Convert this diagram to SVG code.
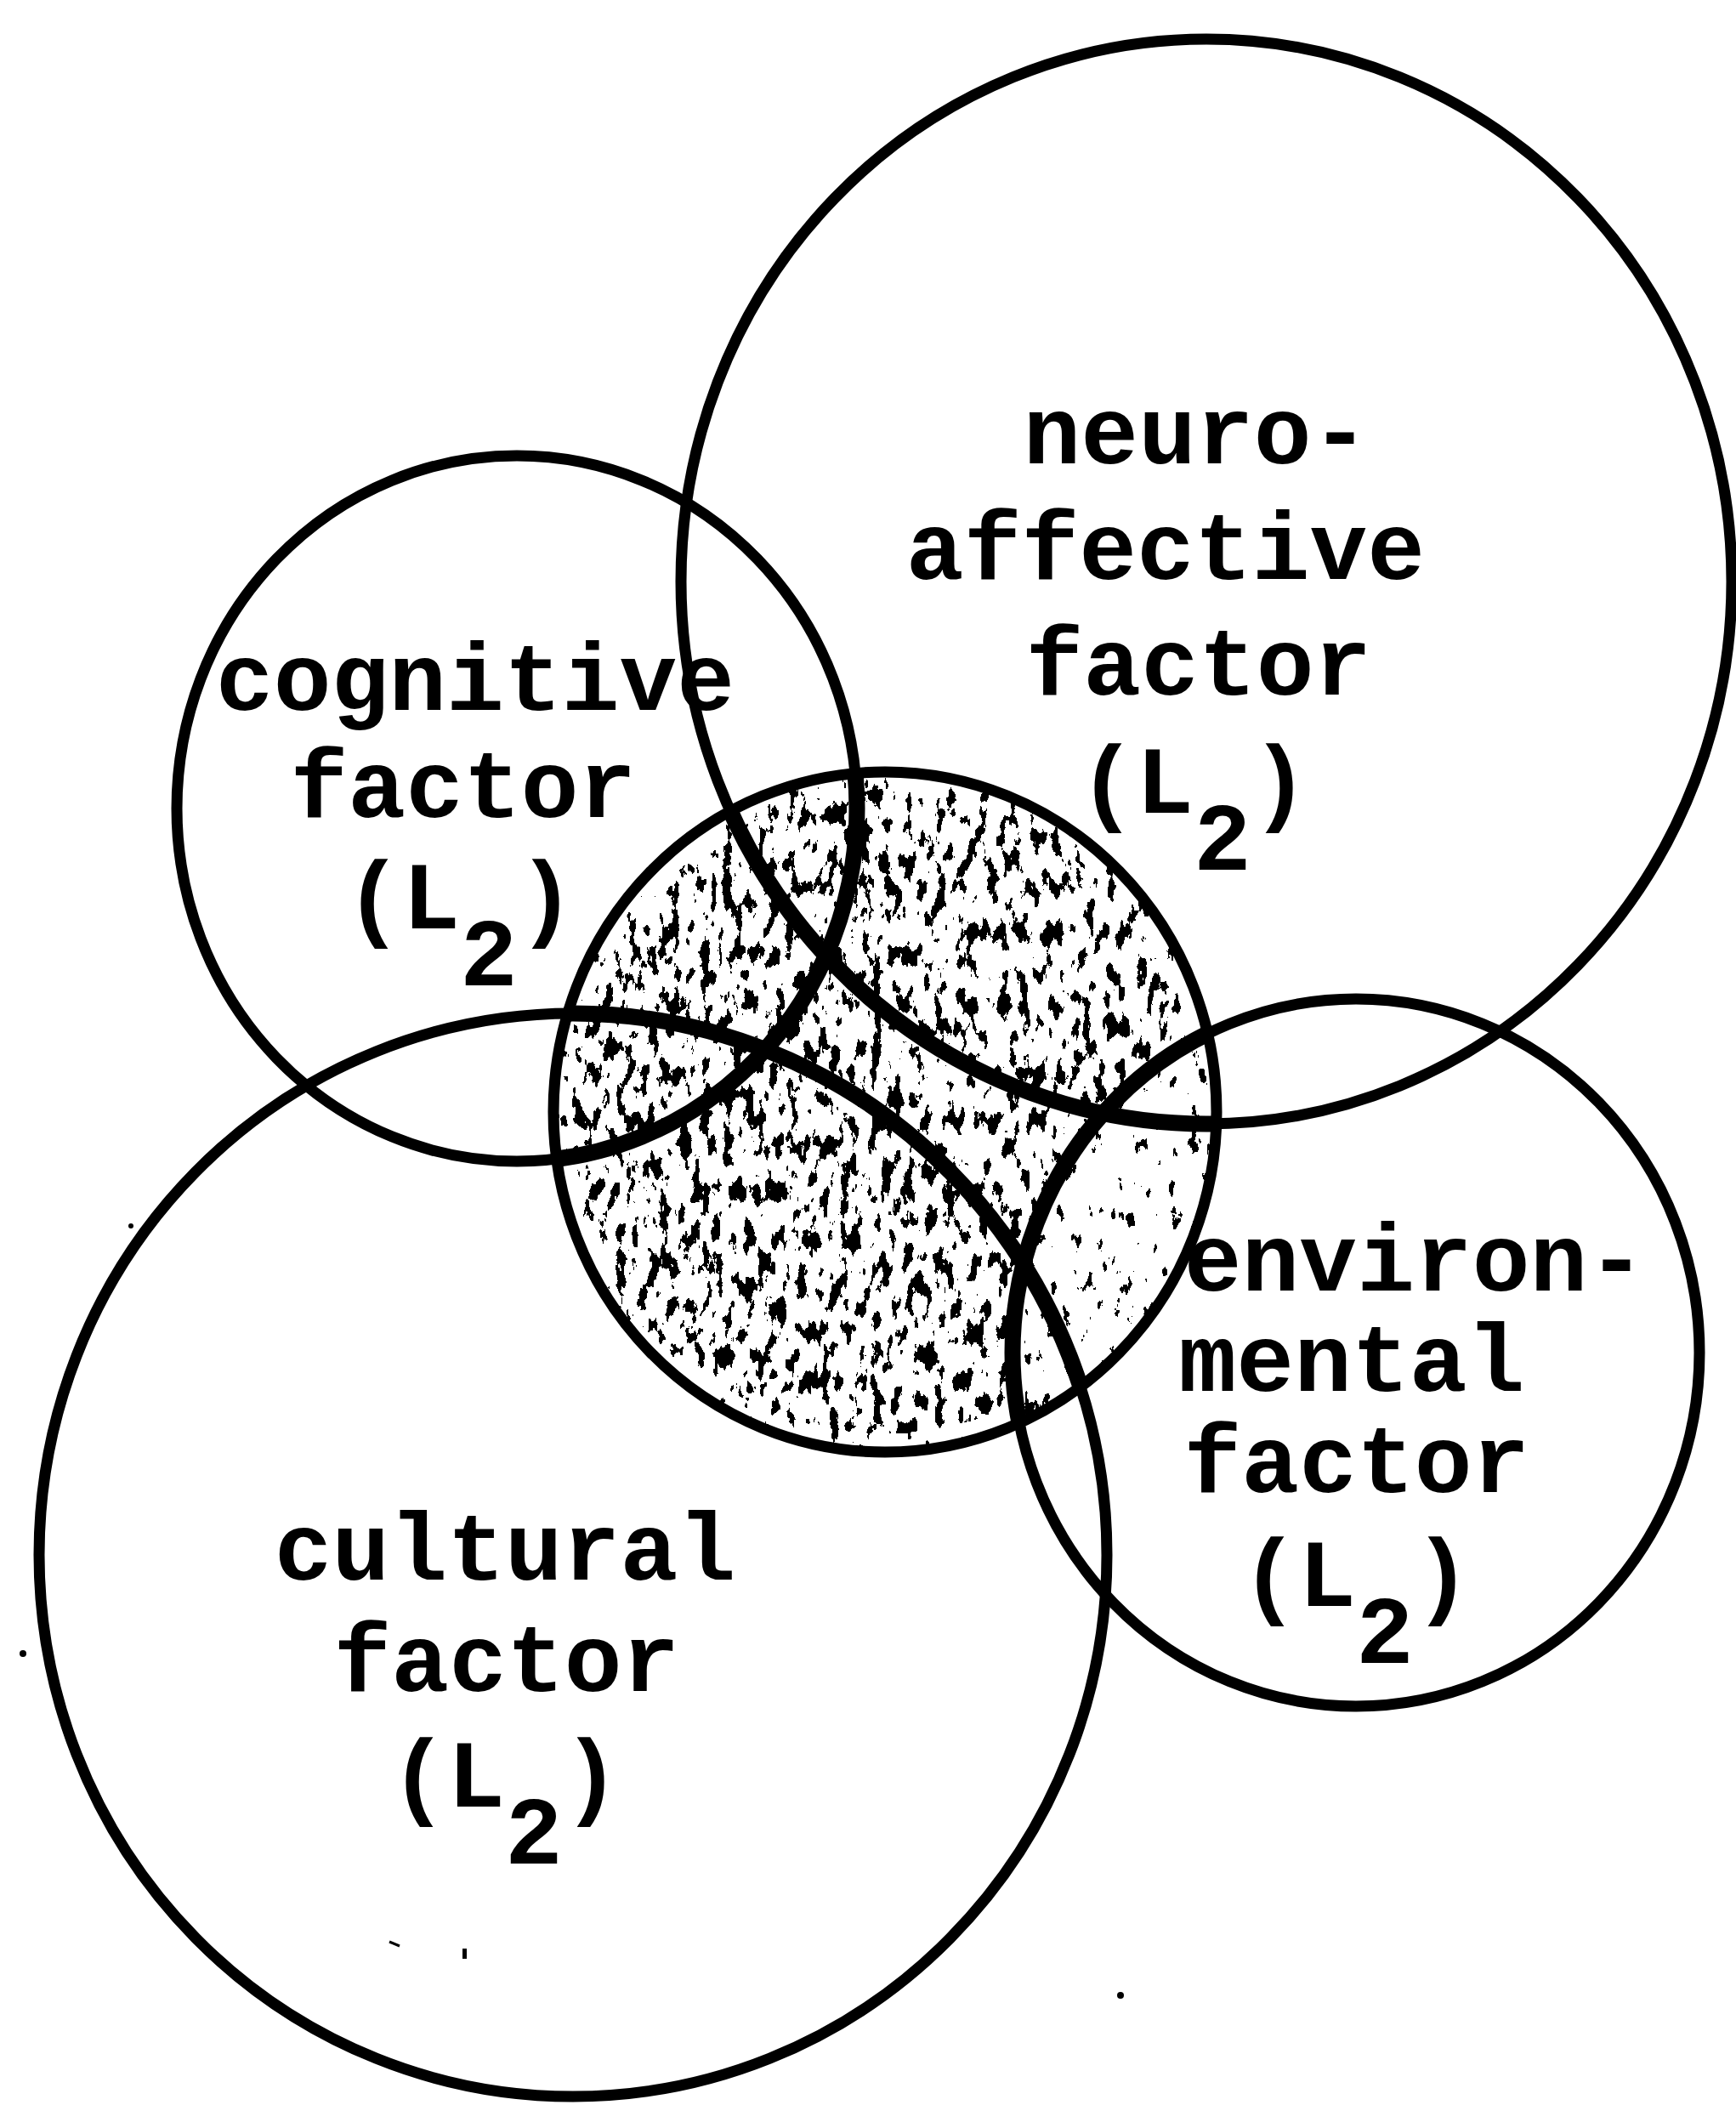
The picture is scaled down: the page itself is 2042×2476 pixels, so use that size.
<svg xmlns="http://www.w3.org/2000/svg" width="2042" height="2476" viewBox="0 0 2042 2476">
<style>
.ring{fill:none;stroke:#000;stroke-width:13}
.arc{fill:none;stroke:#000;stroke-width:19}
.lbl{font-family:"Liberation Mono","DejaVu Sans Mono",monospace;font-weight:bold;font-size:113px;fill:#000;text-anchor:middle}
</style>
<defs>
<clipPath id="coreClip"><ellipse cx="1041" cy="1308" rx="390" ry="400"/></clipPath>
<linearGradient id="density" gradientUnits="userSpaceOnUse" x1="720" y1="1620" x2="1360" y2="1000">
<stop offset="0" stop-color="rgb(124,124,124)"/>
<stop offset="0.5" stop-color="rgb(119,119,119)"/>
<stop offset="1" stop-color="rgb(114,114,114)"/>
</linearGradient>
<filter id="speckle" filterUnits="userSpaceOnUse" x="640" y="900" width="800" height="820" color-interpolation-filters="sRGB">
<feTurbulence type="fractalNoise" baseFrequency="0.08 0.036" numOctaves="4" seed="11" result="fine"/>
<feColorMatrix in="fine" type="matrix" values="0 0 0 0 0  0 0 0 0 0  0 0 0 0 0  1 0 0 0 0" result="fineA"/>
<feColorMatrix in="SourceGraphic" type="matrix" values="0 0 0 0 0  0 0 0 0 0  0 0 0 0 0  1 0 0 0 0" result="biasA"/>
<feComposite in="fineA" in2="biasA" operator="arithmetic" k1="0" k2="-4" k3="2.5" k4="1" result="mix"/>
<feComponentTransfer in="mix" result="mask"><feFuncA type="discrete" tableValues="0 1"/></feComponentTransfer>
<feFlood flood-color="#000" result="ink"/>
<feComposite in="ink" in2="mask" operator="in"/>
</filter>
</defs>
<rect width="2042" height="2476" fill="#fff"/>
<g id="core">
<g clip-path="url(#coreClip)">
<g filter="url(#speckle)">
<rect x="640" y="900" width="800" height="820" fill="url(#density)"/>
<path d="M980 1180 L1145 1255 L1225 1440 L1090 1330 Z" fill="rgb(106,106,106)"/>
<ellipse cx="1595" cy="1591" rx="404" ry="416" fill="rgb(72,72,72)"/>
<ellipse cx="1041" cy="1308" rx="390" ry="400" fill="none" stroke="rgb(80,80,80)" stroke-width="44"/>
</g>
<ellipse class="arc" cx="608" cy="951" rx="400" ry="415"/>
<ellipse class="arc" cx="1419" cy="684" rx="618" ry="638"/>
<ellipse class="arc" cx="674" cy="1829" rx="628" ry="637"/>
<ellipse class="arc" cx="1595" cy="1591" rx="404" ry="416"/>
</g>
<ellipse class="ring" cx="1041" cy="1308" rx="390" ry="400"/>
</g>
<g id="cognitive">
<ellipse class="ring" cx="608" cy="951" rx="400" ry="415"/>
<text class="lbl" x="559" y="835">cognitive</text>
<text class="lbl" x="545" y="961">factor</text>
<text class="lbl" x="541" y="1092">(L<tspan dy="67">2</tspan><tspan dy="-67">)</tspan></text>
</g>
<g id="neuro-affective">
<ellipse class="ring" cx="1419" cy="684" rx="618" ry="638"/>
<text class="lbl" x="1407" y="545">neuro-</text>
<text class="lbl" x="1371" y="681">affective</text>
<text class="lbl" x="1410" y="817">factor</text>
<text class="lbl" x="1404" y="956">(L<tspan dy="67">2</tspan><tspan dy="-67">)</tspan></text>
</g>
<g id="cultural">
<ellipse class="ring" cx="674" cy="1829" rx="628" ry="637"/>
<text class="lbl" x="594" y="1858">cultural</text>
<text class="lbl" x="596" y="1989">factor</text>
<text class="lbl" x="594" y="2125">(L<tspan dy="67">2</tspan><tspan dy="-67">)</tspan></text>
</g>
<g id="environmental">
<ellipse class="ring" cx="1595" cy="1591" rx="404" ry="416"/>
<text class="lbl" x="1664" y="1518">environ-</text>
<text class="lbl" x="1590" y="1636">mental</text>
<text class="lbl" x="1596" y="1755">factor</text>
<text class="lbl" x="1595" y="1889">(L<tspan dy="67">2</tspan><tspan dy="-67">)</tspan></text>
</g>
<g id="connectors"/>
<g id="specks" fill="#000">
<rect x="544" y="2292" width="5" height="12"/>
<path d="M458 2284 L470 2289" stroke="#000" stroke-width="3"/>
<circle cx="1318" cy="2347" r="4"/>
<circle cx="27" cy="1945" r="4"/>
<circle cx="154" cy="1442" r="3"/>
</g>
</svg>
